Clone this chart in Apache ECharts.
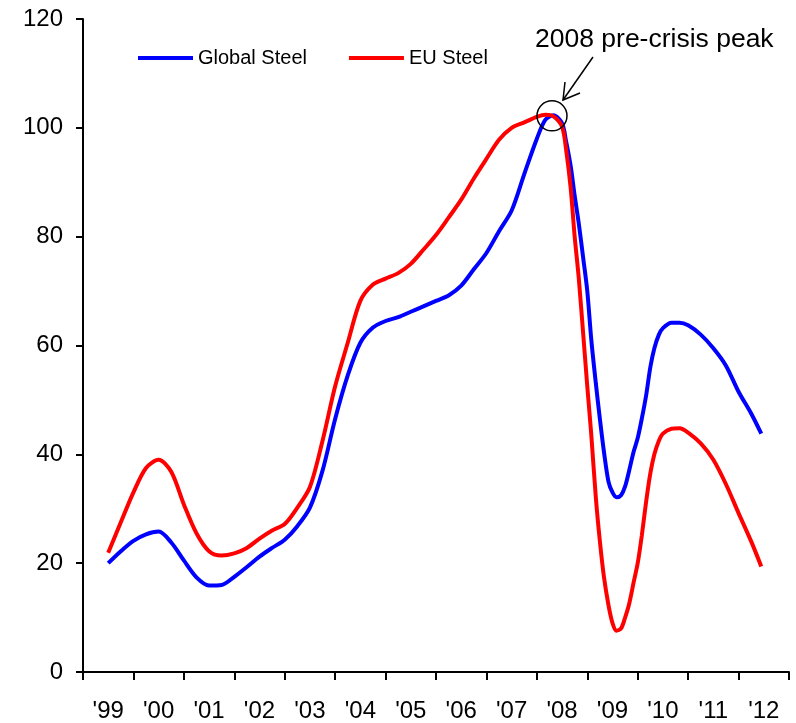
<!DOCTYPE html>
<html>
<head>
<meta charset="utf-8">
<script src="https://cdn.jsdelivr.net/npm/echarts@6/dist/echarts.min.js"></script>
<style>
  html, body { margin: 0; padding: 0; background: #fff; }
  #chart { width: 796px; height: 723px; }
</style>
</head>
<body>
<div id="chart"></div>
<script>
// year labels, centred between the yearly ticks
const yearLabels = ["'99", "'00", "'01", "'02", "'03", "'04", "'05", "'06", "'07", "'08", "'09", "'10", "'11", "'12"]

// sample times (decimal years), denser around the 2008-09 crash
const times = [
  1999.5, 1999.75, 2000.0, 2000.25, 2000.5, 2000.75, 2001.0, 2001.25, 2001.5, 2001.75,
  2002.0, 2002.25, 2002.5, 2002.75, 2003.0, 2003.25, 2003.5, 2003.75, 2004.0, 2004.25,
  2004.5, 2004.75, 2005.0, 2005.25, 2005.5, 2005.75, 2006.0, 2006.25, 2006.5, 2006.75,
  2007.0, 2007.25, 2007.5, 2007.75, 2008.0, 2008.17, 2008.33, 2008.5, 2008.58, 2008.67,
  2008.75, 2008.83, 2008.92, 2009.0, 2009.08, 2009.17, 2009.25, 2009.33, 2009.42, 2009.5,
  2009.58, 2009.67, 2009.75, 2009.83, 2009.92, 2010.0, 2010.08, 2010.17, 2010.25, 2010.33,
  2010.42, 2010.5, 2010.67, 2010.83, 2011.0, 2011.25, 2011.5, 2011.75, 2012.0, 2012.25,
  2012.45
]

const globalSteel = [
  20.0, 22.2, 24.1, 25.3, 25.8, 23.8, 20.5, 17.4, 15.9, 16.0,
  17.5, 19.3, 21.2, 22.8, 24.3, 26.8, 30.2, 37.0, 46.5, 54.5,
  60.5, 63.3, 64.5, 65.2, 66.2, 67.2, 68.2, 69.2, 71.0, 74.0,
  77.0, 81.0, 84.8, 91.5, 98.0, 101.5, 102.3, 100.8, 97.5, 93.0,
  87.5, 82.5, 76.0, 70.0, 61.0, 53.0, 46.5, 40.5, 35.0, 33.0,
  32.1, 32.5, 34.1, 37.0, 40.5, 43.0, 46.5, 51.0, 56.0, 59.5,
  62.0, 63.2, 64.2, 64.2, 63.7, 62.0, 59.5, 56.3, 51.5, 47.5,
  43.8
]

const euSteel = [
  21.9, 27.5, 33.0, 37.5, 39.0, 36.8, 30.8, 25.5, 22.2, 21.4,
  21.8, 22.8, 24.5, 26.0, 27.2, 30.2, 34.0, 42.5, 52.5, 60.5,
  68.2, 71.2, 72.3, 73.3, 75.0, 77.6, 80.3, 83.5, 86.8, 90.7,
  94.3, 97.8, 100.0, 101.0, 102.0, 102.4, 102.1, 100.2, 96.0, 89.0,
  80.0, 72.5, 62.0, 52.5, 43.5, 32.0, 24.0, 17.5, 12.3, 9.0,
  7.6, 8.0, 10.0, 12.5, 16.5, 20.0, 25.0, 31.5, 36.5, 40.0,
  42.5, 43.8, 44.7, 44.8, 44.0, 42.0, 39.0, 34.5, 29.2, 24.0,
  19.4
]

const peak = [2008.3, 102.2]

const font = 'Liberation Sans, Arial, sans-serif'

const chart = echarts.init(document.getElementById('chart'))

const option = {
  animation: false,
  textStyle: { fontFamily: font, color: '#000' },
  grid: { left: 83, right: 7, top: 19, bottom: 50 },
  legend: {
    left: 133,
    top: 43,
    icon: 'rect',
    itemWidth: 55,
    itemHeight: 4,
    itemGap: 42,
    textStyle: { fontFamily: font, fontSize: 20, color: '#000' },
    data: ['Global Steel', 'EU Steel']
  },
  xAxis: [
    {
      // visible axis: ticks on year boundaries, labels in between
      type: 'category',
      data: yearLabels,
      boundaryGap: true,
      axisLine: { lineStyle: { color: '#000', width: 2 } },
      axisTick: { show: true, interval: 0, length: 8, lineStyle: { color: '#000', width: 2 } },
      axisLabel: { interval: 0, margin: 27, fontSize: 24, color: '#000', fontFamily: font },
      splitLine: { show: false }
    },
    {
      // hidden value axis that positions the data
      type: 'value',
      min: 1999,
      max: 2013,
      show: false
    }
  ],
  yAxis: {
    type: 'value',
    min: 0,
    max: 120,
    interval: 20,
    axisLine: { show: true, lineStyle: { color: '#000', width: 2 } },
    axisTick: { show: true, length: 7, lineStyle: { color: '#000', width: 2 } },
    axisLabel: { margin: 20, fontSize: 24, color: '#000', fontFamily: font },
    splitLine: { show: false }
  },
  series: [
    {
      name: 'Global Steel',
      type: 'line',
      xAxisIndex: 1,
      symbol: 'none',
      smooth: 0.3,
      color: '#0000ff',
      lineStyle: { width: 4, color: '#0000ff' },
      data: times.map((t, i) => [t, globalSteel[i]]),
      z: 2
    },
    {
      name: 'EU Steel',
      type: 'line',
      xAxisIndex: 1,
      symbol: 'none',
      smooth: 0.3,
      color: '#ff0000',
      lineStyle: { width: 4, color: '#ff0000' },
      data: times.map((t, i) => [t, euSteel[i]]),
      markPoint: {
        silent: true,
        symbol: 'circle',
        symbolSize: 30,
        itemStyle: { color: 'rgba(0,0,0,0)', borderColor: '#000', borderWidth: 1.5 },
        label: { show: false },
        data: [{ coord: peak }]
      },
      z: 3
    }
  ],
  graphic: [
    {
      type: 'text',
      left: 535,
      top: 26,
      style: { text: '2008 pre-crisis peak', font: '26.5px ' + font, fill: '#000' }
    },
    {
      type: 'polyline',
      shape: { points: [[593, 57], [563, 100]] },
      style: { stroke: '#000', lineWidth: 1.5, fill: null }
    },
    {
      type: 'polyline',
      shape: { points: [[565, 82], [563, 100], [580, 93]] },
      style: { stroke: '#000', lineWidth: 1.5, fill: null }
    }
  ]
}

chart.setOption(option)
</script>
</body>
</html>
